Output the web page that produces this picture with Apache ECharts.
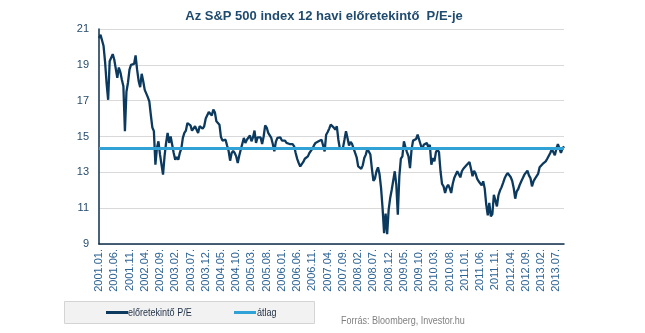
<!DOCTYPE html>
<html>
<head>
<meta charset="utf-8">
<script src="https://cdn.jsdelivr.net/npm/echarts@6/dist/echarts.min.js"></script>
<style>
  html, body { margin: 0; padding: 0; background: #ffffff; }
  #chart { width: 645px; height: 333px; }
</style>
</head>
<body>
<div id="chart"></div>
<script>
// Forward 12-month P/E of the S&P 500, two readings per month (start / mid-month)
const startYear = 2001;
const endYear = 2013;
const endMonth = 9;

const pe2001 = [20.5, 20.68, 20.65, 20.05, 19.15, 17.95, 17.05, 19.2, 19.4, 19.6, 19.3, 19.2, 18.27, 18.85, 18.6, 18.17, 17.8, 15.3, 17.5, 18.0, 18.73, 19.0, 18.92, 19.05];
const pe2002 = [19.53, 18.73, 18.1, 17.75, 18.5, 18.08, 17.6, 17.7, 17.2, 16.96, 16.2, 15.5, 15.3, 13.43, 14.36, 14.73, 14.0, 13.43, 12.87, 13.9, 14.64, 15.2, 14.64, 15.0];
const pe2003 = [14.92, 14.08, 13.7, 13.85, 13.7, 14.08, 14.32, 14.92, 15.2, 15.33, 15.75, 15.8, 15.62, 15.33, 15.25, 15.57, 15.47, 15.2, 15.57, 15.62, 15.44, 15.57, 16.0, 16.18];
const pe2004 = [16.37, 16.3, 16.18, 16.5, 16.35, 15.85, 15.88, 15.66, 14.97, 14.77, 14.82, 14.82, 14.5, 14.2, 13.65, 14.08, 14.2, 14.08, 13.89, 13.52, 13.94, 14.27, 14.32, 14.92];
const pe2005 = [14.64, 14.82, 14.92, 15.06, 14.73, 14.95, 15.33, 14.64, 14.95, 15.06, 14.95, 14.58, 15.0, 15.62, 15.5, 15.2, 15.14, 14.92, 14.58, 14.17, 14.7, 14.92, 15.0, 14.95];
const pe2006 = [14.77, 14.73, 14.77, 14.64, 14.73, 14.58, 14.64, 14.58, 14.45, 14.08, 13.75, 13.52, 13.33, 13.33, 13.58, 13.76, 13.71, 13.89, 14.08, 14.17, 14.32, 14.5, 14.64, 14.54];
const pe2007 = [14.73, 14.64, 14.82, 14.82, 14.17, 15.1, 15.25, 15.44, 15.66, 15.7, 15.5, 15.38, 15.57, 14.82, 14.32, 14.3, 14.36, 14.82, 15.29, 14.92, 14.5, 14.7, 14.58, 14.64];
const pe2008 = [14.08, 13.84, 13.33, 13.33, 13.2, 13.39, 13.8, 13.99, 14.32, 14.4, 13.99, 13.2, 12.53, 12.65, 13.06, 13.28, 12.9, 12.13, 11.0, 9.6, 10.7, 9.55, 10.92, 11.57];
const pe2009 = [12.03, 12.13, 13.06, 12.31, 10.64, 12.78, 13.76, 13.89, 14.73, 14.4, 14.13, 13.89, 13.24, 14.27, 14.77, 14.88, 14.86, 15.1, 14.82, 14.54, 14.27, 14.54, 14.45, 14.64];
const pe2010 = [14.4, 14.54, 13.43, 13.8, 13.61, 14.13, 14.27, 14.13, 13.06, 12.35, 12.22, 11.85, 12.16, 12.31, 12.13, 11.85, 12.35, 12.68, 12.59, 13.06, 12.96, 12.72, 13.06, 13.2];
const pe2011 = [13.28, 13.39, 13.47, 13.58, 13.2, 12.78, 13.09, 12.93, 12.65, 12.5, 12.57, 12.27, 12.5, 12.09, 11.2, 10.6, 11.29, 10.54, 10.67, 11.75, 11.85, 11.1, 11.72, 11.98];
const pe2012 = [12.16, 12.4, 12.65, 12.83, 12.96, 13.0, 12.74, 12.53, 12.13, 11.53, 11.94, 12.07, 12.31, 12.5, 12.68, 12.87, 12.87, 13.09, 12.83, 12.68, 12.22, 12.5, 12.65, 12.63];
const pe2013 = [12.91, 13.28, 13.39, 13.47, 13.52, 13.61, 13.76, 13.76, 14.08, 14.3, 14.32, 13.95, 14.32, 14.58, 14.5, 14.08, 14.32, 14.45];

// Long-run average of the series
const averagePE = 14.35;

// Axis labels shown every five months
const tickLabels = [
  '2001.01.', '2001.06.', '2001.11.', '2002.04.', '2002.09.', '2003.02.', '2003.07.', '2003.12.',
  '2004.05.', '2004.10.', '2005.03.', '2005.08.', '2006.01.', '2006.06.', '2006.11.', '2007.04.',
  '2007.09.', '2008.02.', '2008.07.', '2008.12.', '2009.05.', '2009.10.', '2010.03.', '2010.08.',
  '2011.01.', '2011.06.', '2011.11.', '2012.04.', '2012.09.', '2013.02.', '2013.07.'
];

const seriesNames = ['előretekintő P/E', 'átlag'];
const yTicks = { min: 9, max: 21, interval: 2 };

const lineColor = '#0c3a5f';
const avgColor = '#31a2d6';

// Half-month category keys: "YYYY.MM." for the first half, "YYYY.MM.15" for the second
const categories = [];
for (let y = startYear; y <= endYear; y++) {
  const last = y === endYear ? endMonth : 12;
  for (let m = 1; m <= last; m++) {
    const key = y + '.' + String(m).padStart(2, '0') + '.';
    categories.push(key, key + '15');
  }
}
const peValues = [].concat(pe2001, pe2002, pe2003, pe2004, pe2005, pe2006, pe2007,
  pe2008, pe2009, pe2010, pe2011, pe2012, pe2013);

const chart = echarts.init(document.getElementById('chart'), null, { renderer: 'canvas' });
const tickSet = new Set(tickLabels);

// Narrow sans look for the legend and source line
const narrowFont = '11px "Liberation Sans", Arial, sans-serif';
const narrowScale = 0.82;

// One legend block per series so each swatch sits at its own spot
const legendBase = {
  top: 311,
  padding: 0,
  itemWidth: 22,
  itemHeight: 3,
  icon: 'rect',
  formatter: () => '',
  textStyle: { fontSize: 1 }
};

chart.setOption({
  animation: false,
  backgroundColor: '#ffffff',
  title: {
    text: 'Az S&P 500 index 12 havi előretekintő  P/E-je',
    left: 319,
    textAlign: 'center',
    top: 5,
    textStyle: {
      fontFamily: 'Liberation Sans',
      fontSize: 13,
      fontWeight: 'bold',
      color: '#1f4b6e'
    }
  },
  grid: { left: 99, right: 81, top: 29, bottom: 89, containLabel: false },
  xAxis: {
    type: 'category',
    data: categories,
    boundaryGap: false,
    axisLine: { show: true, lineStyle: { color: '#0f2f4c', width: 1.5 } },
    axisTick: { show: false },
    splitLine: { show: false },
    axisLabel: {
      interval: (idx, value) => tickSet.has(value),
      rotate: 90,
      margin: 5,
      fontFamily: 'Liberation Sans',
      fontSize: 11,
      color: '#2f6494'
    }
  },
  yAxis: {
    type: 'value',
    min: yTicks.min,
    max: yTicks.max,
    interval: yTicks.interval,
    axisLine: { show: true, lineStyle: { color: '#0f2f4c', width: 1.5 } },
    axisTick: { show: false },
    splitLine: { lineStyle: { color: '#d9d9d9', width: 1 } },
    axisLabel: {
      margin: 10,
      fontFamily: 'Liberation Sans',
      fontSize: 11,
      color: '#274c6c'
    }
  },
  legend: [
    Object.assign({}, legendBase, { left: 106, data: [seriesNames[0]] }),
    Object.assign({}, legendBase, { left: 234, data: [seriesNames[1]] })
  ],
  series: [
    {
      name: seriesNames[0],
      type: 'line',
      data: peValues,
      color: lineColor,
      showSymbol: false,
      symbol: 'none',
      lineStyle: { width: 2.3, color: lineColor },
      z: 2
    },
    {
      name: seriesNames[1],
      type: 'line',
      data: [],
      color: avgColor,
      symbol: 'none',
      lineStyle: { width: 3, color: avgColor },
      markLine: {
        silent: true,
        symbol: 'none',
        label: { show: false },
        lineStyle: { type: 'solid', width: 3, color: avgColor },
        data: [{ yAxis: averagePE }]
      },
      z: 3
    }
  ],
  graphic: [
    {
      type: 'rect',
      left: 64,
      top: 301,
      shape: { width: 250, height: 22 },
      style: { fill: '#f2f2f2', stroke: '#d4d4d4', lineWidth: 1 },
      z: -1
    },
    {
      type: 'text',
      x: 128,
      y: 312.5,
      scaleX: narrowScale,
      style: { text: seriesNames[0], font: narrowFont, fill: '#1f2f44', verticalAlign: 'middle' }
    },
    {
      type: 'text',
      x: 257,
      y: 312.5,
      scaleX: narrowScale,
      style: { text: seriesNames[1], font: narrowFont, fill: '#1f2f44', verticalAlign: 'middle' }
    },
    {
      type: 'text',
      x: 341,
      y: 320.5,
      scaleX: narrowScale,
      style: {
        text: 'Forrás: Bloomberg, Investor.hu',
        font: narrowFont,
        fill: '#7f7f7f',
        verticalAlign: 'middle'
      }
    }
  ]
});
</script>
</body>
</html>
